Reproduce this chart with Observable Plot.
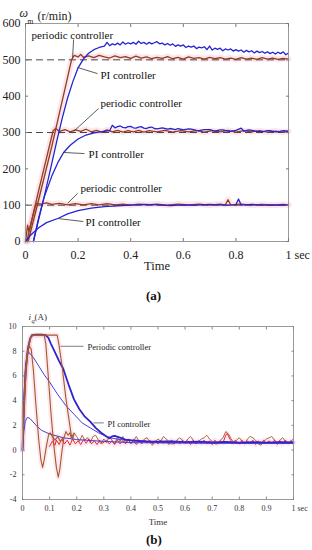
<!DOCTYPE html>
<html><head><meta charset="utf-8">
<script src="https://cdn.jsdelivr.net/npm/d3@7"></script>
<script src="https://cdn.jsdelivr.net/npm/@observablehq/plot@0.6"></script>
<style>
body{margin:0;background:#fff;}
#wrap{position:relative;width:312px;height:550px;overflow:hidden;}
#wrap svg, #wrap svg text{font-family:"Liberation Serif",serif !important;}
#a{position:absolute;left:0;top:0;}
#b{position:absolute;left:0;top:300px;}
.lab{position:absolute;font-family:"Liberation Serif",serif;font-weight:bold;font-size:13px;color:#111;}
</style></head><body>
<div id="wrap"><div id="a"></div><div class="lab" style="left:146px;top:288px">(a)</div><div id="b"></div><div class="lab" style="left:146px;top:532px">(b)</div></div>
<script>
// ---------- chart (a): speed response ----------
const refSpeeds = [100, 300, 500];
const xTicksA = [0, 0.2, 0.4, 0.6, 0.8, 1];
const yTicksA = [0, 100, 200, 300, 400, 500, 600];

const piA500 = [[0.03,0],[0.05,60],[0.07,120],[0.1,215],[0.12,280],[0.14,340],[0.16,395],[0.18,440],[0.2,478],[0.22,502],[0.24,518],[0.26,528],[0.28,534],[0.3,538],[0.31,548],[0.32,539],[0.33,544],[0.34,541],[0.35,546],[0.36,541],[0.37,549],[0.38,543],[0.39,547],[0.4,544],[0.41,548],[0.42,543],[0.43,551],[0.44,545],[0.45,548],[0.46,543],[0.47,548],[0.48,544],[0.49,547],[0.5,550],[0.51,544],[0.52,546],[0.53,541],[0.54,545],[0.55,540],[0.56,544],[0.57,537],[0.58,541],[0.59,538],[0.6,541],[0.61,534],[0.62,538],[0.63,535],[0.64,538],[0.65,531],[0.66,535],[0.67,533],[0.68,536],[0.69,528],[0.7,538],[0.71,527],[0.72,532],[0.73,529],[0.74,532],[0.75,525],[0.76,530],[0.77,527],[0.78,530],[0.79,524],[0.8,528],[0.81,524],[0.82,527],[0.83,521],[0.84,526],[0.85,522],[0.86,525],[0.87,519],[0.88,524],[0.89,520],[0.9,523],[0.91,518],[0.92,522],[0.93,517],[0.94,521],[0.95,516],[0.96,521],[0.97,517],[0.98,522],[0.99,514],[1,519]];
const piA300 = [[0.03,0],[0.05,65],[0.07,120],[0.1,180],[0.125,220],[0.145,245],[0.17,265],[0.2,282],[0.23,293],[0.26,299],[0.3,303],[0.32,305],[0.33,320],[0.34,313],[0.35,316],[0.36,318],[0.37,314],[0.38,313],[0.39,316],[0.4,317],[0.41,313],[0.42,312],[0.43,315],[0.44,316],[0.45,312],[0.46,311],[0.47,314],[0.48,315],[0.49,311],[0.5,310],[0.52,313],[0.54,309],[0.55,311],[0.57,308],[0.58,311],[0.6,307],[0.62,310],[0.63,309],[0.65,306],[0.66,305],[0.68,308],[0.7,308],[0.72,304],[0.74,307],[0.75,307],[0.77,304],[0.78,303],[0.8,306],[0.82,312],[0.83,304],[0.85,307],[0.86,306],[0.88,303],[0.9,302],[0.92,305],[0.93,305],[0.95,302],[0.96,302],[0.98,305],[1,304]];
const piA100 = [[0,0],[0.02,18],[0.05,38],[0.08,52],[0.125,64],[0.16,76],[0.2,85],[0.25,92],[0.3,96],[0.35,98],[0.4,100],[0.45,102],[0.5,101],[0.55,99],[0.6,101],[0.65,100],[0.7,102],[0.75,100],[0.8,101],[0.81,117],[0.82,100],[0.86,102],[0.9,100],[0.95,101],[1,100]];

const perA500 = [[0.01,0],[0.05,115],[0.1,262],[0.15,420],[0.175,500],[0.185,512],[0.2,508],[0.21,515],[0.22,507],[0.24,511],[0.26,506],[0.28,512],[0.3,508],[0.32,505],[0.34,511],[0.36,506],[0.38,509],[0.4,504],[0.42,510],[0.44,505],[0.46,508],[0.48,503],[0.5,507],[0.52,504],[0.54,509],[0.56,503],[0.58,507],[0.6,502],[0.62,508],[0.64,504],[0.66,506],[0.68,502],[0.7,507],[0.72,503],[0.74,506],[0.76,502],[0.78,505],[0.8,501],[0.82,506],[0.84,502],[0.86,505],[0.88,501],[0.9,506],[0.92,502],[0.94,505],[0.96,501],[0.98,504],[1,502]];
const perA300 = [[0.005,0],[0.05,140],[0.105,305],[0.115,311],[0.13,303],[0.15,308],[0.17,302],[0.19,307],[0.21,303],[0.23,309],[0.25,302],[0.27,306],[0.29,301],[0.31,307],[0.33,302],[0.35,306],[0.37,301],[0.39,305],[0.41,302],[0.43,306],[0.45,301],[0.47,305],[0.5,302],[0.53,306],[0.56,301],[0.59,305],[0.62,302],[0.65,305],[0.68,301],[0.71,305],[0.74,302],[0.77,306],[0.8,301],[0.83,305],[0.86,302],[0.89,305],[0.92,301],[0.95,304],[0.98,301],[1,303]];
const perA100 = [[0,0],[0.008,45],[0.013,28],[0.04,105],[0.06,103],[0.08,106],[0.1,102],[0.13,105],[0.16,101],[0.19,104],[0.22,101],[0.25,104],[0.28,101],[0.31,104],[0.34,101],[0.37,103],[0.4,100],[0.43,103],[0.46,101],[0.5,103],[0.54,100],[0.58,103],[0.62,101],[0.66,103],[0.7,100],[0.74,103],[0.76,101],[0.77,115],[0.78,101],[0.82,103],[0.86,100],[0.9,102],[0.94,100],[0.98,102],[1,101]];

const labelsA = [
  {text:"periodic controller", t:0.023, v:567},
  {text:"PI controller",       t:0.285, v:457},
  {text:"periodic controller", t:0.285, v:380},
  {text:"PI controller",       t:0.24,  v:240},
  {text:"periodic controller", t:0.209, v:146},
  {text:"PI controller",       t:0.228, v:52}
];
const leadersA = [
  {t1:0.183,v1:556,t2:0.179,v2:506},
  {t1:0.274,v1:462,t2:0.198,v2:479},
  {t1:0.278,v1:366,t2:0.183,v2:303},
  {t1:0.224,v1:242,t2:0.144,v2:245},
  {t1:0.198,v1:132,t2:0.16, v2:105},
  {t1:0.22, v1:55, t2:0.125,v2:63}
];

// ---------- chart (b): q-axis current ----------
const xTicksB = [0,0.1,0.2,0.3,0.4,0.5,0.6,0.7,0.8,0.9,1];
const yTicksB = [-4,-2,0,2,4,6,8,10];

const piB500 = [[0,0],[0.004,2.5],[0.008,4.8],[0.013,6.8],[0.02,8.2],[0.028,9.0],[0.035,9.3],[0.05,9.35],[0.07,9.35],[0.085,9.3],[0.095,9.1],[0.105,8.6],[0.12,7.9],[0.135,7.2],[0.15,6.6],[0.17,5.3],[0.19,4.1],[0.21,3.3],[0.23,2.7],[0.25,2.3],[0.27,1.8],[0.29,1.4],[0.31,1.1],[0.32,0.95],[0.33,1.1],[0.34,1.15],[0.36,1.0],[0.38,0.85],[0.4,0.8],[0.43,0.75],[0.46,0.7],[0.5,0.68],[0.55,0.7],[0.6,0.65],[0.65,0.68],[0.7,0.62],[0.75,0.66],[0.8,0.6],[0.85,0.64],[0.9,0.6],[0.95,0.64],[1,0.62]];
const piB300 = [[0,0],[0.005,4],[0.01,6.5],[0.017,7.7],[0.024,7.9],[0.04,7.5],[0.06,6.8],[0.08,6.1],[0.1,5.5],[0.13,4.5],[0.16,3.6],[0.19,2.9],[0.22,2.2],[0.25,1.8],[0.28,1.4],[0.32,1.0],[0.36,0.85],[0.4,0.75],[0.5,0.6],[0.7,0.55],[1,0.55]];
const piB100 = [[0,0],[0.005,1.5],[0.01,2.3],[0.018,2.65],[0.028,2.55],[0.05,2.0],[0.07,1.6],[0.1,1.3],[0.15,1.0],[0.2,0.85],[0.3,0.7],[0.4,0.6],[1,0.55]];

const perB500 = [[0,0],[0.004,2.5],[0.008,4.8],[0.013,6.8],[0.02,8.2],[0.028,9.0],[0.035,9.3],[0.128,9.3],[0.134,8.6],[0.146,6.8],[0.16,4.2],[0.172,2.4],[0.18,1.2],[0.185,0.9],[0.19,1.3]];
const perB300 = [[0,0],[0.005,3],[0.012,6],[0.02,8],[0.03,9.1],[0.04,9.3],[0.08,9.3],[0.086,8.6],[0.095,6],[0.105,3],[0.115,0.5],[0.125,-1.4],[0.132,-2.2],[0.138,-1.5],[0.145,-0.2],[0.152,0.9],[0.16,1.5],[0.168,1.2],[0.175,1.4],[0.18,1.0]];
const perB100 = [[0,0],[0.005,3.5],[0.01,6],[0.018,7.8],[0.025,8.4],[0.032,8.2],[0.04,6.5],[0.05,3.5],[0.06,0.8],[0.068,-0.8],[0.074,-1.4],[0.08,-0.8],[0.088,0.3],[0.096,1.2],[0.102,1.4],[0.11,1.1],[0.12,0.8],[0.13,1.1],[0.14,0.7],[0.15,1.0]];
const perBSteady = [[0.18,1.0],[0.19,1.4],[0.2,1.1],[0.21,0.7],[0.22,1.2],[0.23,0.8],[0.24,1.0],[0.25,0.6],[0.26,1.1],[0.27,1.2],[0.28,0.8],[0.29,0.5],[0.3,0.9],[0.31,0.6],[0.32,1.1],[0.33,0.8],[0.34,0.5],[0.35,1.0],[0.36,0.7],[0.37,1.1],[0.38,0.6],[0.39,0.9],[0.4,0.5],[0.41,0.8],[0.42,1.1],[0.43,0.7],[0.44,0.6],[0.45,0.9],[0.46,1.0],[0.47,0.6],[0.48,0.4],[0.49,0.7],[0.5,0.9],[0.51,0.7],[0.52,1.1],[0.53,0.9],[0.54,0.7],[0.55,0.5],[0.56,0.5],[0.57,0.8],[0.58,1.0],[0.59,0.8],[0.6,0.6],[0.61,0.9],[0.62,1.1],[0.63,0.8],[0.64,0.5],[0.65,0.7],[0.66,0.9],[0.67,1.0],[0.68,1.2],[0.69,0.9],[0.7,0.7],[0.71,0.5],[0.72,0.5],[0.73,0.8],[0.74,1.0],[0.75,1.5],[0.76,1.3],[0.77,0.9],[0.78,0.6],[0.79,0.8],[0.8,1.0],[0.81,0.7],[0.82,0.5],[0.83,0.9],[0.84,1.1],[0.85,1.0],[0.86,0.8],[0.87,0.5],[0.88,0.4],[0.89,0.7],[0.9,0.9],[0.91,1.0],[0.92,1.1],[0.93,0.8],[0.94,0.6],[0.95,0.8],[0.96,1.0],[0.97,0.7],[0.98,0.5],[0.99,0.7],[1,0.9]];
const perBRed = [[0.1,0.3],[0.11,0.7],[0.12,0.4],[0.125,0.8],[0.135,0.45],[0.145,0.9],[0.155,0.5],[0.165,0.8],[0.175,0.4],[0.185,0.9],[0.195,0.5],[0.205,0.75],[0.215,0.45],[0.225,0.85],[0.235,0.55],[0.245,0.9],[0.255,0.5],[0.265,0.75],[0.275,0.45],[0.285,0.8],[0.295,0.55],[0.31,0.8],[0.32,0.5],[0.33,0.75],[0.34,0.45],[0.35,0.8],[0.36,0.5],[0.37,0.75],[0.38,0.5],[0.39,0.8],[0.4,0.55],[0.41,0.8],[0.42,0.45],[0.43,0.75],[0.44,0.5],[0.45,0.8],[0.46,0.55],[0.47,0.8],[0.48,0.5],[0.49,0.75],[0.5,0.5],[0.51,0.8],[0.52,0.55],[0.53,0.75],[0.54,0.45],[0.55,0.8],[0.56,0.5],[0.57,0.75],[0.58,0.5],[0.59,0.8],[0.6,0.55],[0.61,0.75],[0.62,0.45],[0.63,0.8],[0.64,0.5],[0.65,0.75],[0.66,0.55],[0.67,0.8],[0.68,0.5],[0.69,0.75],[0.7,0.45],[0.71,0.8],[0.72,0.5],[0.73,0.75],[0.74,0.6],[0.75,1.2],[0.755,1.35],[0.765,0.9],[0.775,0.55],[0.785,0.8],[0.8,0.5],[0.81,0.8],[0.82,0.5],[0.83,0.75],[0.84,0.5],[0.85,0.8],[0.86,0.45],[0.87,0.75],[0.88,0.5],[0.89,0.8],[0.9,0.55],[0.91,0.75],[0.92,0.5],[0.93,0.8],[0.94,0.45],[0.95,0.75],[0.96,0.5],[0.97,0.8],[0.98,0.55],[0.99,0.75],[1,0.6]];

const labelsB = [
  {text:"Periodic controller", t:0.24, v:8.33},
  {text:"PI controller",       t:0.314, v:2.1}
];
const leadersB = [
  {t1:0.14, v1:8.4, t2:0.225, v2:8.4},
  {t1:0.262,v1:2.2, t2:0.3,   v2:2.2}
];

// ---------- drawing ----------
const FONT = "Liberation Serif";
const BLUE = "#2424d2", BROWN = "#8f3f1c", PINK = "#f7a9c4";
const ln = (d, o) => Plot.line(d, {x: p => p[0], y: p => p[1], curve: "linear", ...o});
const F = {fontFamily: FONT};

const fmtA = d => d === 1 ? "" : String(d);
const plotA = Plot.plot({
  width: 312, height: 275,
  marginLeft: 25, marginRight: 24, marginTop: 23, marginBottom: 34,
  x: {domain: [0, 1]}, y: {domain: [0, 600]},
  style: {fontFamily: FONT, fontSize: "12px", color: "#222", background: "transparent", overflow: "visible"},
  marks: [
    ...[perA500, perA300, perA100].map(d => ln(d, {stroke: PINK, strokeWidth: 6, strokeOpacity: 0.3})),
    Plot.ruleY(refSpeeds, {stroke: "#333", strokeWidth: 0.9, strokeDasharray: "7,4"}),
    ...[perA500, perA300, perA100].map(d => ln(d, {stroke: BROWN, strokeWidth: 1.3})),
    ...[piA500, piA300, piA100].map(d => ln(d, {stroke: BLUE, strokeWidth: 1.3})),
    Plot.link(leadersA, {x1: "t1", y1: "v1", x2: "t2", y2: "v2", stroke: "#333", strokeWidth: 0.8}),
    Plot.text(labelsA, {x: "t", y: "v", text: "text", textAnchor: "start", fontSize: 11, fill: "#111", ...F}),
    Plot.frame({stroke: "#9a9a9a"}),
    Plot.axisX(xTicksA, {tickSize: 0, tickPadding: 9, tickFormat: fmtA, label: null, ...F}),
    Plot.axisX(xTicksA, {tickSize: -3, tickFormat: () => "", label: null, stroke: "#777"}),
    Plot.axisX(xTicksA, {anchor: "top", tickSize: -3, tickFormat: () => "", label: null, stroke: "#777"}),
    Plot.axisY(yTicksA, {tickSize: 0, tickPadding: 5, label: null, ...F}),
    Plot.axisY(yTicksA, {tickSize: -3, tickFormat: () => "", label: null, stroke: "#777"}),
    Plot.axisY(yTicksA, {anchor: "right", tickSize: -3, tickFormat: () => "", label: null, stroke: "#777"}),
    Plot.text([1], {x: d => d, frameAnchor: "bottom", lineAnchor: "top", dy: 9, dx: -3, textAnchor: "start", text: () => "1 sec", fill: "#222", ...F}),
    Plot.text(["Time"], {frameAnchor: "bottom", lineAnchor: "top", dy: 20, text: d => d, fontSize: 12.5, fill: "#222", ...F}),
    Plot.text(["ω"], {frameAnchor: "top-left", dx: -6, dy: -15, text: d => d, fontSize: 12, fontStyle: "italic", fill: "#222", ...F}),
    Plot.text(["m"], {frameAnchor: "top-left", dx: 2, dy: -5, text: d => d, fontSize: 7.5, fill: "#222", ...F}),
    Plot.text(["(r/min)"], {frameAnchor: "top-left", dx: 12, dy: -12, textAnchor: "start", text: d => d, fontSize: 12, fill: "#222", ...F})
  ]
});
document.getElementById("a").append(plotA);

const fmtB = d => d === 1 ? "" : String(d).replace("−", "-");
const BLUE2 = "#4a40d4", BLUEB = "#2f25cc", RED = "#e8161e", BROWN2 = "#a6582c";
const plotB = Plot.plot({
  width: 312, height: 235,
  marginLeft: 22, marginRight: 19, marginTop: 26, marginBottom: 36,
  x: {domain: [0, 1]}, y: {domain: [-4, 10]},
  style: {fontFamily: FONT, fontSize: "8px", color: "#333", background: "transparent", overflow: "visible"},
  marks: [
    ...[perB500, perB300, perB100, perBRed].map(d => ln(d, {stroke: PINK, strokeWidth: 5, strokeOpacity: 0.25})),
    ln(perBSteady, {stroke: BROWN2, strokeWidth: 0.9}),
    ln(perBRed, {stroke: RED, strokeWidth: 0.9}),
    ln(piB300, {stroke: BLUE2, strokeWidth: 1}),
    ln(piB100, {stroke: BLUE2, strokeWidth: 1}),
    ln(piB500, {stroke: BLUEB, strokeWidth: 1.8}),
    ...[perB500, perB300, perB100].map(d => ln(d, {stroke: BROWN2, strokeWidth: 1.1})),
    Plot.link(leadersB, {x1: "t1", y1: "v1", x2: "t2", y2: "v2", stroke: "#444", strokeWidth: 0.7}),
    Plot.text(labelsB, {x: "t", y: "v", text: "text", textAnchor: "start", fontSize: 8.5, fill: "#222", ...F}),
    Plot.frame({stroke: "#9a9a9a"}),
    Plot.axisX(xTicksB, {tickSize: 0, tickPadding: 6, tickFormat: fmtB, label: null, ...F}),
    Plot.axisX(xTicksB, {tickSize: -2.5, tickFormat: () => "", label: null, stroke: "#888"}),
    Plot.axisX(xTicksB, {anchor: "top", tickSize: -2.5, tickFormat: () => "", label: null, stroke: "#888"}),
    Plot.axisY(yTicksB, {tickSize: 0, tickPadding: 6, tickFormat: fmtB, label: null, ...F}),
    Plot.axisY(yTicksB, {tickSize: -2.5, tickFormat: () => "", label: null, stroke: "#888"}),
    Plot.axisY(yTicksB, {anchor: "right", tickSize: -2.5, tickFormat: () => "", label: null, stroke: "#888"}),
    Plot.text([1], {x: d => d, frameAnchor: "bottom", lineAnchor: "top", dy: 6, dx: -2, textAnchor: "start", text: () => "1 sec", fill: "#333", ...F}),
    Plot.text(["Time"], {frameAnchor: "bottom", lineAnchor: "top", dy: 19, text: d => d, fontSize: 9, fill: "#333", ...F}),
    Plot.text(["i"], {frameAnchor: "top-left", dx: 6, dy: -13, text: d => d, fontSize: 9, fontStyle: "italic", fill: "#333", ...F}),
    Plot.text(["q"], {frameAnchor: "top-left", dx: 9, dy: -8, text: d => d, fontSize: 6.5, fontStyle: "italic", fill: "#333", ...F}),
    Plot.text(["(A)"], {frameAnchor: "top-left", dx: 12, dy: -13, textAnchor: "start", text: d => d, fontSize: 9, fill: "#333", ...F})
  ]
});
document.getElementById("b").append(plotB);
</script>
</body></html>
